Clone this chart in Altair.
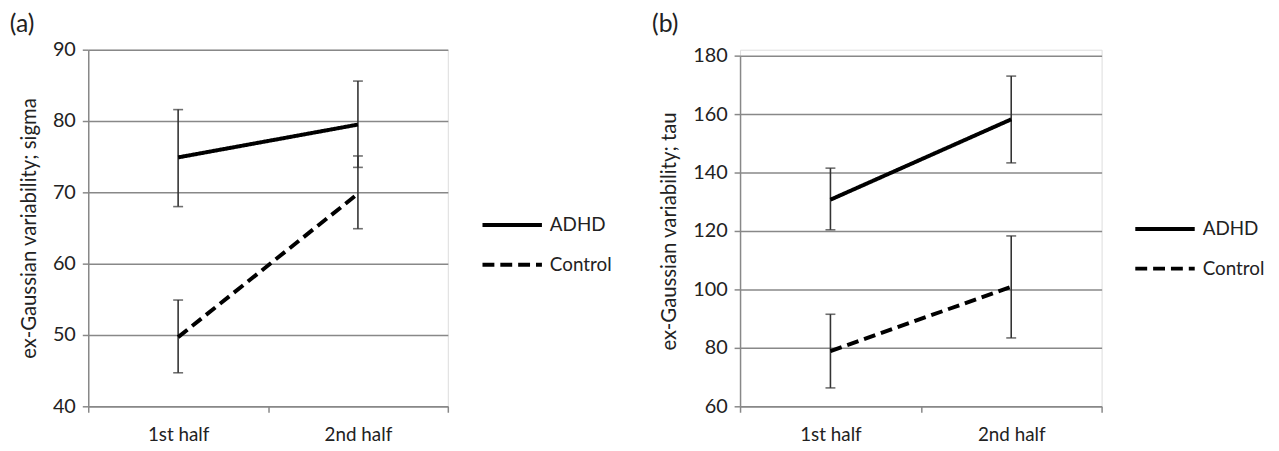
import altair as alt
import pandas as pd

halves = ["1st half", "2nd half"]
groups = ["ADHD", "Control"]

# Panel (a): sigma
sigma_adhd = [74.9, 79.5]
sigma_adhd_lo = [68.0, 73.5]
sigma_adhd_hi = [81.6, 85.6]
sigma_ctrl = [49.7, 69.8]
sigma_ctrl_lo = [44.7, 64.9]
sigma_ctrl_hi = [54.9, 75.1]

# Panel (b): tau
tau_adhd = [130.7, 158.2]
tau_adhd_lo = [120.4, 143.3]
tau_adhd_hi = [141.5, 173.0]
tau_ctrl = [78.9, 100.9]
tau_ctrl_lo = [66.3, 83.4]
tau_ctrl_hi = [91.5, 118.3]

FONT = "Lato"
GRID = "#888888"
INK = "#222222"
PLOT_H = 360


def make_df(a, alo, ahi, c, clo, chi):
    rows = []
    for g, m, lo, hi in (("ADHD", a, alo, ahi), ("Control", c, clo, chi)):
        for i, h in enumerate(halves):
            rows.append({"half": h, "group": g, "value": m[i], "lo": lo[i], "hi": hi[i]})
    return pd.DataFrame(rows)


def panel(df, label, ytitle, domain, step, w, top_gap, lx, ly, tdx, tdy):
    xs = alt.Scale(domain=halves, paddingInner=0, paddingOuter=0)
    ys = alt.Scale(domain=domain, nice=False, zero=False, range=[PLOT_H, top_gap])
    xaxis = alt.Axis(title=None, labelAngle=0, tickBand="extent", domainColor=GRID,
                     domainWidth=1.5, tickColor=GRID, tickWidth=1.5, tickSize=6,
                     labelFontSize=19, labelPadding=14, labelColor=INK, labelFont=FONT,
                     grid=False)
    yaxis = alt.Axis(title=ytitle, values=list(range(domain[0], domain[1] + 1, step)),
                     grid=True, gridColor=GRID, gridWidth=1.5,
                     domainColor=GRID, domainWidth=1.5, tickColor=GRID,
                     tickWidth=1.5, tickSize=6, labelFontSize=20, labelColor=INK,
                     labelFont=FONT, labelPadding=7, titleFont=FONT, titleFontSize=20.5,
                     titleFontWeight="normal", titleColor=INK, titlePadding=13)
    x = alt.X("half:N", scale=xs, axis=xaxis, sort=halves)
    base = alt.Chart(df)
    stems = base.mark_rule(color="#333333", strokeWidth=1.6).encode(
        x=x, y=alt.Y("lo:Q", scale=ys, axis=yaxis), y2="hi:Q")
    cap_lo = base.mark_tick(color="#333333", size=10, thickness=1.6).encode(
        x=x, y=alt.Y("lo:Q", scale=ys, axis=yaxis))
    cap_hi = base.mark_tick(color="#333333", size=10, thickness=1.6).encode(
        x=x, y=alt.Y("hi:Q", scale=ys, axis=yaxis))
    lines = base.mark_line(color="black", strokeWidth=4, strokeCap="butt").encode(
        x=x,
        y=alt.Y("value:Q", scale=ys, axis=yaxis),
        strokeDash=alt.StrokeDash(
            "group:N",
            scale=alt.Scale(domain=groups, range=[[1, 0], [12, 6]]),
            legend=alt.Legend(title=None, orient="none", legendX=lx, legendY=ly,
                              symbolType="stroke", symbolSize=3600, symbolStrokeWidth=4,
                              symbolStrokeColor="black", labelFontSize=19, labelFont=FONT,
                              labelColor=INK, labelOffset=6, clipHeight=20,
                              rowPadding=20),
        ),
    )
    return alt.layer(stems, cap_lo, cap_hi, lines).properties(
        width=w, height=PLOT_H,
        title=alt.TitleParams(label, anchor="start", frame="bounds", fontSize=25,
                              fontWeight="normal", font=FONT, color=INK, offset=1,
                              dx=tdx, dy=tdy),
    )


df_a = make_df(sigma_adhd, sigma_adhd_lo, sigma_adhd_hi, sigma_ctrl, sigma_ctrl_lo, sigma_ctrl_hi)
df_b = make_df(tau_adhd, tau_adhd_lo, tau_adhd_hi, tau_ctrl, tau_ctrl_lo, tau_ctrl_hi)

pa = panel(df_a, "(a)", "ex-Gaussian variability; sigma", [40, 90], 10, 363, 0, 396, 167, -10, -2)
pb = panel(df_b, "(b)", "ex-Gaussian variability; tau", [60, 180], 20, 365, 6, 397, 171, -8, -8)

chart = alt.hconcat(pa, pb, spacing=38).resolve_scale(strokeDash="independent").resolve_legend(
    strokeDash="independent"
).properties(
    padding={"left": 1, "top": 1, "right": 5, "bottom": 0}
).configure_view(strokeWidth=0).configure(background="white")

chart.save("out.html", embed_options={"renderer": "svg", "actions": False})
